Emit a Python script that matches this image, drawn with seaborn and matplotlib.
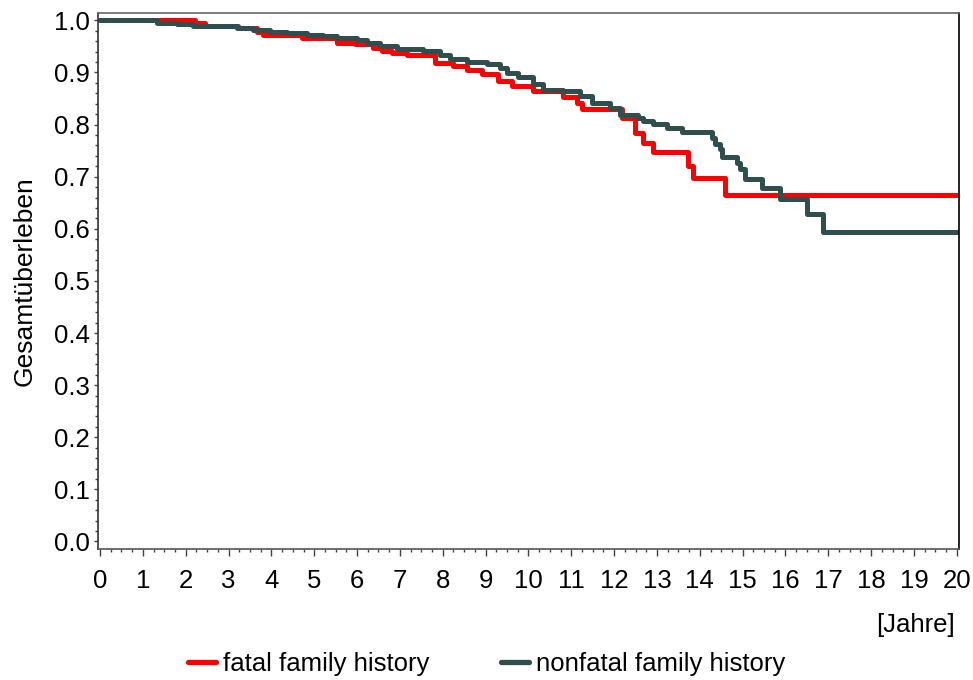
import matplotlib
matplotlib.use("Agg")
import matplotlib.pyplot as plt
from matplotlib.ticker import MultipleLocator, FormatStrFormatter
from matplotlib.lines import Line2D
import numpy as np
import pandas as pd
import seaborn as sns

# Kaplan-Meier Stufen (Zeit in Jahren, Gesamtueberleben)
fatal_t = [0, 2.22, 2.45, 3.22, 3.66, 3.80, 4.71, 5.53, 5.95, 6.37, 6.58,
           6.81, 7.16, 7.82, 8.24, 8.56, 8.91, 9.29, 9.61, 10.10, 10.80,
           11.13, 11.25, 12.18, 12.49, 12.67, 12.91, 13.72, 13.84, 14.59, 20.0]
fatal_s = [1.0, 0.995, 0.990, 0.985, 0.978, 0.971, 0.966, 0.957, 0.954, 0.947, 0.942,
           0.937, 0.934, 0.918, 0.913, 0.905, 0.897, 0.883, 0.874, 0.864, 0.853,
           0.842, 0.829, 0.813, 0.784, 0.765, 0.748, 0.720, 0.697, 0.665, 0.665]

nonfatal_t = [0, 1.33, 1.80, 2.17, 2.50, 3.20, 3.57, 3.97, 4.36, 4.83, 5.20, 5.53,
              6.00, 6.23, 6.53, 6.93, 7.54, 7.93, 8.17, 8.56, 9.03, 9.33, 9.50,
              9.75, 10.10, 10.34, 10.80, 11.20, 11.48, 11.90, 12.14, 12.56, 12.67,
              12.91, 13.23, 13.58, 14.28, 14.35, 14.47, 14.52, 14.87, 14.94, 15.05,
              15.45, 15.87, 16.50, 16.87, 20.0]
nonfatal_s = [1.0, 0.995, 0.993, 0.990, 0.989, 0.985, 0.981, 0.978, 0.976, 0.972, 0.969, 0.966,
              0.963, 0.957, 0.951, 0.945, 0.941, 0.934, 0.926, 0.921, 0.916, 0.909, 0.899,
              0.891, 0.878, 0.867, 0.864, 0.854, 0.842, 0.832, 0.819, 0.813, 0.807,
              0.801, 0.794, 0.785, 0.775, 0.762, 0.753, 0.738, 0.727, 0.715, 0.695,
              0.678, 0.657, 0.628, 0.594, 0.594]

gruppen = ["fatal family history", "nonfatal family history"]
farben = ["#ff0000", "#2f4f4f"]

df = pd.concat([
    pd.DataFrame({"t": fatal_t, "s": fatal_s, "gruppe": gruppen[0]}),
    pd.DataFrame({"t": nonfatal_t, "s": nonfatal_s, "gruppe": gruppen[1]}),
])

sns.set_style("white")
plt.rcParams["font.family"] = ["Liberation Sans", "DejaVu Sans"]
plt.rcParams["text.color"] = "black"
plt.rcParams["axes.labelcolor"] = "black"
fs = 18.5

fig = plt.figure(figsize=(9.73, 6.80), dpi=100)
ax = fig.add_axes([98/973, 1 - 549.3/680, (959 - 98)/973, (549.3 - 13.3)/680])

sns.lineplot(data=df, x="t", y="s", hue="gruppe", palette=dict(zip(gruppen, farben)),
             drawstyle="steps-post", estimator=None, linewidth=3.6, legend=False, ax=ax)

ax.set_xlim(-0.047, 20.05)
ax.set_ylim(-0.015, 1.0135)
ax.xaxis.set_major_locator(MultipleLocator(1))
ax.xaxis.set_minor_locator(MultipleLocator(0.25))
ax.yaxis.set_major_locator(MultipleLocator(0.1))
ax.yaxis.set_minor_locator(MultipleLocator(0.02))
ax.yaxis.set_major_formatter(FormatStrFormatter("%.1f"))

ax.tick_params(axis="x", which="major", direction="out", length=5, width=1, color="#444444",
               labelsize=fs, labelcolor="black", pad=9, bottom=True)
ax.tick_params(axis="x", which="minor", direction="out", length=2.5, width=1, color="#444444", bottom=True)
ax.tick_params(axis="y", which="major", direction="out", length=3, width=1, color="#444444",
               labelsize=fs, labelcolor="black", pad=3, left=True)
ax.tick_params(axis="y", which="minor", direction="out", length=2, width=1, color="#444444", left=True)

ax.spines["left"].set_color("#333333")
ax.spines["bottom"].set_color("#555555")
ax.spines["top"].set_color("#666666")
ax.spines["right"].set_color("#000000")
for sp in ax.spines.values():
    sp.set_linewidth(1.2)

ax.set_xlabel("")
ax.set_ylabel("Gesamtüberleben", fontsize=fs + 0.5)
ax.yaxis.set_label_coords(-0.071, 0.5)

fig.text(955/973, 1 - 625/680, "[Jahre]", ha="right", va="center", fontsize=fs)

handles = [Line2D([], [], color=c, linewidth=3.8) for c in farben]
fig.legend(handles, gruppen, loc="center", bbox_to_anchor=(0.5, 1 - 664/680), ncol=2,
           frameon=False, fontsize=fs, handlelength=1.1, handletextpad=0.25, columnspacing=2.8)

fig.savefig("out.png", dpi=100)
